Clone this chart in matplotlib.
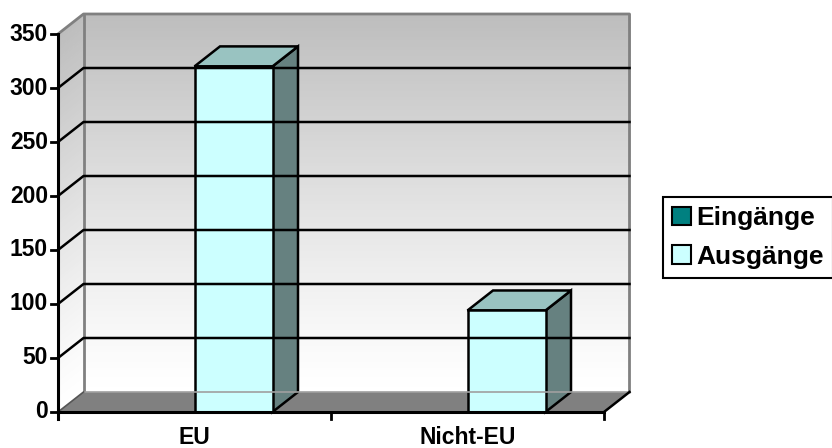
import matplotlib
matplotlib.use('Agg')
import matplotlib.pyplot as plt
from matplotlib.patches import Polygon, Patch
from matplotlib.lines import Line2D
from matplotlib.transforms import IdentityTransform

categories = ['EU', 'Nicht-EU']
series_names = ['Eingänge', 'Ausgänge']
eingaenge = [0, 0]
ausgaenge = [320, 94]
yticks = [0, 50, 100, 150, 200, 250, 300, 350]

face_colors = ['#008080', '#ccffff']
top_colors = ['#00a0a0', '#99c3c1']
side_colors = ['#006060', '#668180']

W, H = 832, 448
DX, DY = 25.5, 20          # depth of the 3d box in pixels
GAP = 1.5                  # gap width relative to one bar

fig = plt.figure(figsize=(W / 100, H / 100), dpi=100)
ax = fig.add_axes([58 / W, 1 - 412 / H, (604 - 58) / W, (412 - 34) / H])
ax.set_xlim(-0.5, len(categories) - 0.5)
ax.set_ylim(0, yticks[-1])
ax.axis('off')

px = IdentityTransform()
font = dict(family='Liberation Sans', weight='bold')


def pt(x, y, d=0.0):
    X, Y = ax.transData.transform((x, y))
    return (X + d * DX, Y + d * DY)


def poly(points, **kw):
    fig.add_artist(Polygon(points, closed=True, transform=px, **kw))


def line(points, **kw):
    xs, ys = zip(*points)
    fig.add_artist(Line2D(xs, ys, transform=px, **kw))


xl, xr = -0.5, len(categories) - 0.5
ymax = yticks[-1]

# walls with grey -> white gradient
n = 120
for k in range(n):
    v0 = ymax * k / n
    v1 = ymax * (k + 1) / n
    f = (k + 0.5) / n
    g = 255 - 66 * f ** 1.2
    c = (g / 255, g / 255, g / 255)
    poly([pt(xl, v0, 1), pt(xr, v0, 1), pt(xr, v1, 1), pt(xl, v1, 1)],
         facecolor=c, edgecolor=c, lw=0.6)
    poly([pt(xl, v0, 0), pt(xl, v0, 1), pt(xl, v1, 1), pt(xl, v1, 0)],
         facecolor=c, edgecolor=c, lw=0.6)

# wall outline
edge = '#808080'
line([pt(xl, ymax, 0), pt(xl, ymax, 1), pt(xr, ymax, 1), pt(xr, 0, 1)], color=edge, lw=2)
line([pt(xl, ymax, 1), pt(xl, 0, 1)], color=edge, lw=2)

# gridlines
for v in yticks[1:-1]:
    line([pt(xl, v, 0), pt(xl, v, 1), pt(xr, v, 1)], color='black', lw=1.8)

# floor
poly([pt(xl, 0, 0), pt(xr, 0, 0), pt(xr, 0, 1), pt(xl, 0, 1)],
     facecolor='#808080', edgecolor='none')
line([pt(xl, 0, 1), pt(xr, 0, 1)], color='#a0a0a0', lw=1.2)
line([pt(xl, 0, 0), pt(xl, 0, 1)], color='#555555', lw=1.2)
line([pt(xr, 0, 0), pt(xr, 0, 1)], color='black', lw=1.8)
line([pt(xl, 0, 0), pt(xr, 0, 0)], color='black', lw=2.2)

# value axis
X0, Y0 = pt(xl, 0)
line([pt(xl, 0), pt(xl, ymax)], color='black', lw=2.2)
line([(X0, Y0), (X0, Y0 - 7)], color='black', lw=2.2)
for v in yticks:
    X, Y = pt(xl, v)
    line([(X - 7, Y), (X, Y)], color='black', lw=2)
    fig.text(X - 10, Y, str(v), transform=px, ha='right', va='center',
             fontsize=16.5, **font)

# category ticks and labels
for i in range(len(categories) + 1):
    X, Y = pt(i - 0.5, 0)
    line([(X, Y), (X, Y - 7)], color='black', lw=2)
for i, name in enumerate(categories):
    X, Y = pt(i, 0)
    fig.text(X, Y - 26, name, transform=px, ha='center', va='center',
             fontsize=16.5, **font)

# bars
w = 1 / (len(series_names) + GAP)
for s, values in enumerate([eingaenge, ausgaenge]):
    for i, v in enumerate(values):
        if v <= 0:
            continue
        x0 = i - w + s * w
        x1 = x0 + w
        kw = dict(edgecolor='black', lw=1.8, joinstyle='miter')
        poly([pt(x1, 0, 0), pt(x1, 0, 1), pt(x1, v, 1), pt(x1, v, 0)],
             facecolor=side_colors[s], **kw)
        poly([pt(x0, v, 0), pt(x1, v, 0), pt(x1, v, 1), pt(x0, v, 1)],
             facecolor=top_colors[s], **kw)
        poly([pt(x0, 0), pt(x1, 0), pt(x1, v), pt(x0, v)],
             facecolor=face_colors[s], **kw)

# legend
handles = [Patch(facecolor=face_colors[s], edgecolor='black', lw=1.5, label=series_names[s])
           for s in range(len(series_names))]
leg = fig.legend(handles=handles, loc='upper left', bbox_to_anchor=(663 / W, 1 - 197 / H),
                 frameon=True, fancybox=False, edgecolor='black', framealpha=1,
                 handlelength=0.7, handleheight=0.7, handletextpad=0.2,
                 borderpad=0.35, labelspacing=0.55, borderaxespad=0,
                 prop=dict(size=19, **font))
leg.get_frame().set_linewidth(1.5)

fig.savefig('out.png', dpi=100)
